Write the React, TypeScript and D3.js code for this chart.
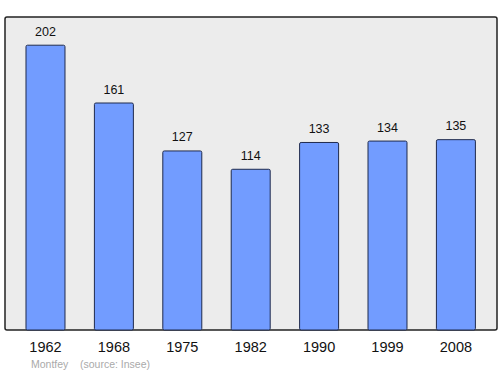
import React from "react";
import * as d3 from "d3";

const years = ["1962", "1968", "1975", "1982", "1990", "1999", "2008"];
const population = [202, 161, 127, 114, 133, 134, 135];
const yMax = 222;
const footerName = "Montfey";
const footerSource = "(source: Insee)";

export default function App() {
  const W = 500, H = 374;
  const left = 5, right = 497, top = 17, bottom = 330;
  const x = d3.scaleBand<string>().domain(years).range([left, right - 0.6]).paddingInner(0.43).paddingOuter(0.307);
  const y = d3.scaleLinear().domain([0, yMax]).range([bottom, top]);
  const font = "'Liberation Sans', Arial, sans-serif";
  return (
    <svg width={W} height={H} style={{ position: "absolute", left: 0, top: 0 }} fontFamily={font}>
      <rect x={left} y={top} width={right - left} height={bottom - top} fill="#ececec" stroke="#222" strokeWidth={1.5} rx={2} />
      {years.map((yr, i) => {
        const v = population[i];
        const bx = x(yr)!;
        const bw = x.bandwidth();
        return (
          <g key={yr}>
            <rect x={bx} y={y(v)} width={bw} height={bottom - y(v)} fill="#729cff" stroke="#1f2a4d" strokeWidth={1} rx={1.5} />
            <text x={bx + bw / 2} y={y(v) - 9.5} textAnchor="middle" fontSize={12.5} fill="#111">{v}</text>
            <text x={bx + bw / 2} y={352} textAnchor="middle" fontSize={14.5} fill="#111">{yr}</text>
          </g>
        );
      })}
      <text x={31} y={368} fontSize={10.5} fill="#aaa">{footerName}</text>
      <text x={80} y={368} fontSize={10.5} fill="#aaa">{footerSource}</text>
    </svg>
  );
}
